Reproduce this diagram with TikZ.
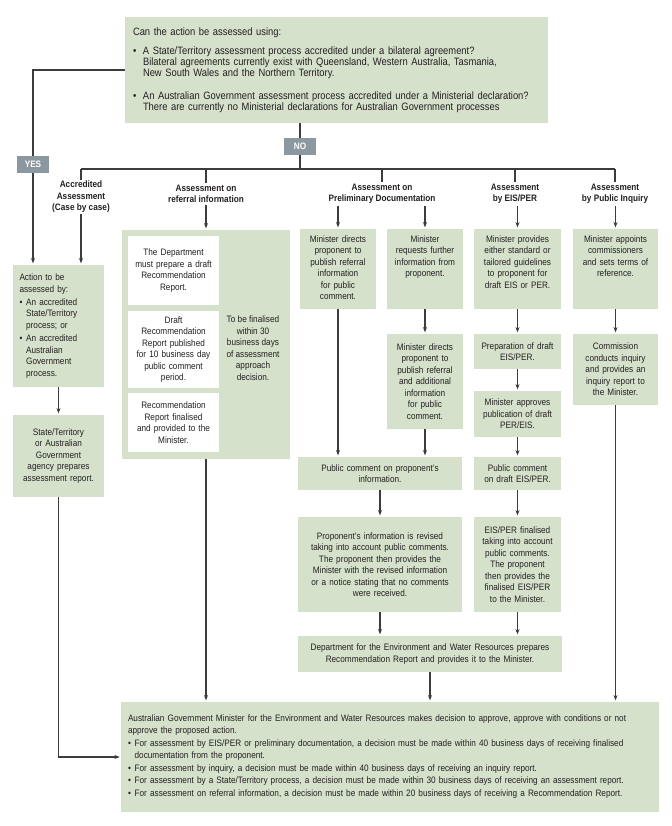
\documentclass[tikz,border=0pt]{standalone}
\usepackage{fontspec}
\setmainfont{Liberation Sans}[FakeStretch=0.88]
\usetikzlibrary{arrows, arrows.meta}
\usetikzlibrary{calc}
\definecolor{boxgreen}{HTML}{D6E1CC}
\definecolor{tabgrey}{HTML}{8C989F}
\definecolor{linegrey}{HTML}{3C3C3C}
\definecolor{textdark}{HTML}{231F20}
\newdimen\px
\px=0.75pt
\newcommand{\toptext}[2]{\parbox[t][50pt][t]{#1\px}{\centering #2}}
\newcommand{\bul}[1][7.5pt]{\makebox[#1][l]{\textbullet}}
\tikzset{
  gbox/.style 2 args={fill=boxgreen, inner xsep=3pt, inner ysep=0pt, text width=#1\px, minimum height=#2\px, align=center},
  wbox/.style 2 args={gbox={#1}{#2}, fill=white},
  head/.style={align=center, inner sep=1pt, font=\fontsize{7}{8.6}\selectfont\bfseries},
  tab/.style={fill=tabgrey, text=white, font=\fontsize{7}{8.6}\selectfont\bfseries, minimum width=32\px, minimum height=17\px, inner sep=0pt},
  link/.style={draw=linegrey, line width=0.8pt},
  arr/.style={link, ->, shorten >=1pt},
}
\begin{document}
\begin{tikzpicture}[x=0.75pt, y=-0.75pt, >={Stealth[length=4pt, width=3pt]}, font=\fontsize{7}{8.6}\selectfont, text=textdark]
  \useasboundingbox (0,0) rectangle (672,826);

  % question
  \node[gbox={407}{106}, align=left, inner xsep=6pt, font=\fontsize{8}{7.9}\selectfont] (ask) at (336.5,70) {Can the action be assessed using:\\[7pt]
    \bul A State/Territory assessment process accredited under a bilateral agreement?\\
    \hspace*{7.5pt}Bilateral agreements currently exist with Queensland, Western Australia, Tasmania,\\
    \hspace*{7.5pt}New South Wales and the Northern Territory.\\[10pt]
    \bul An Australian Government assessment process accredited under a Ministerial declaration?\\
    \hspace*{7.5pt}There are currently no Ministerial declarations for Australian Government processes};
  \node[tab] (no) at (300,146.5) {NO};
  \node[tab] (yes) at (33,164.5) {YES};
  \coordinate (split) at (300,169);

  % headers
  \node[head] (hacc) at (81,197) {Accredited\\Assessment\\(Case by case)};
  \node[head] (href) at (206,194) {Assessment on\\referral information};
  \node[head] (hpre) at (382,194) {Assessment on\\Preliminary Documentation};
  \node[head] (heis) at (515,194) {Assessment\\by EIS/PER};
  \node[head] (hpi) at (615,194) {Assessment\\by Public Inquiry};

  % accredited
  \node[gbox={78}{122}, align=left, inner xsep=5pt] (acc1) at (58.5,326) {Action to be\\assessed by:\\[1.5pt]
    \bul[5pt]An accredited\\\hspace*{5pt}State/Territory\\\hspace*{5pt}process; or\\[1.5pt]
    \bul[5pt]An accredited\\\hspace*{5pt}Australian\\\hspace*{5pt}Government\\\hspace*{5pt}process.};
  \node[gbox={83}{82}] (acc2) at (58.5,456) {State/Territory\\or Australian\\Government\\agency prepares\\assessment report.};

  % referral information
  \node[gbox={160}{229}] (ref) at (206,344.5) {};
  \node[wbox={83}{69}] (r1) at (173.5,270.5) {The Department\\must prepare a draft\\Recommendation\\Report.};
  \node[wbox={83}{77}] (r2) at (173.5,349.5) {Draft\\Recommendation\\Report published\\for 10 business day\\public comment\\period.};
  \node[wbox={83}{59}] (r3) at (173.5,422.5) {Recommendation\\Report finalised\\and provided to the\\Minister.};
  \node[align=center] (rnote) at (253,348) {To be finalised\\within 30\\business days\\of assessment\\approach\\decision.};

  % preliminary documentation
  \node[gbox={68}{80}] (p1) at (338,269) {\toptext{68}{Minister directs\\proponent to\\publish referral\\information\\for public\\comment.}};
  \node[gbox={68}{80}] (p2) at (425,269) {\toptext{68}{Minister\\requests further\\information from\\proponent.}};
  \node[gbox={68}{95}] (p3) at (425,381.5) {Minister directs\\proponent to\\publish referral\\and additional\\information\\for public\\comment.};
  \node[gbox={156}{33}] (pc) at (380,473.5) {Public comment on proponent's\\information.};
  \node[gbox={156}{95}] (pr) at (380,564.5) {Proponent's information is revised\\taking into account public comments.\\The proponent then provides the\\Minister with the revised information\\or a notice stating that no comments\\were received.};
  \node[gbox={256}{36}] (dep) at (430,654) {Department for the Environment and Water Resources prepares\\Recommendation Report and provides it to the Minister.};

  % EIS/PER
  \node[gbox={79}{80}] (e1) at (517.5,269) {\toptext{79}{Minister provides\\either standard or\\tailored guidelines\\to proponent for\\draft EIS or PER.}};
  \node[gbox={79}{35}] (e2) at (517.5,351.5) {Preparation of draft\\EIS/PER.};
  \node[gbox={79}{46}] (e3) at (517.5,414) {Minister approves\\publication of draft\\PER/EIS.};
  \node[gbox={79}{33}] (e4) at (517.5,473.5) {Public comment\\on draft EIS/PER.};
  \node[gbox={79}{95}] (e5) at (517.5,564.5) {EIS/PER finalised\\taking into account\\public comments.\\The proponent\\then provides the\\finalised EIS/PER\\to the Minister.};

  % public inquiry
  \node[gbox={77}{80}] (inq1) at (615.5,269) {\toptext{77}{Minister appoints\\commissioners\\and sets terms of\\reference.}};
  \node[gbox={77}{71}] (inq2) at (615.5,369.5) {Commission\\conducts inquiry\\and provides an\\inquiry report to\\the Minister.};

  % decision
  \node[gbox={524}{110}, align=left, inner xsep=5pt, font=\fontsize{7}{8.7}\selectfont] (fin) at (390,757) {Australian Government Minister for the Environment and Water Resources makes decision to approve, approve with conditions or not\\
    approve the proposed action.\\[1pt]
    \bul[5pt]For assessment by EIS/PER or preliminary documentation, a decision must be made within 40 business days of receiving finalised\\
    \hspace*{5pt}documentation from the proponent.\\[1pt]
    \bul[5pt]For assessment by inquiry, a decision must be made within 40 business days of receiving an inquiry report.\\[1pt]
    \bul[5pt]For assessment by a State/Territory process, a decision must be made within 30 business days of receiving an assessment report.\\[1pt]
    \bul[5pt]For assessment on referral information, a decision must be made within 20 business days of receiving a Recommendation Report.};

  % connectors
  \draw[link] (ask.west) -| (yes);
  \draw[arr] (yes) -- (yes |- acc1.north);
  \draw[link] (ask.south -| no) -- (no);
  \draw[link] (no) -- (split);
  \draw[link] (hacc.north |- split) -- (hpi.north |- split);
  \foreach \h in {hacc, href, hpre, heis, hpi}
    \draw[link] (\h.north |- split) -- (\h.north);
  \draw[arr] (hacc.south) -- (hacc.south |- acc1.north);
  \draw[arr] (acc1) -- (acc2);
  \draw[arr] (acc2.south) |- (fin.west);
  \draw[arr] (href) -- (ref);
  \draw[arr] (ref.south) -- (ref.south |- fin.north);
  \draw[arr] (p1 |- hpre.south) -- (p1.north);
  \draw[arr] (p2 |- hpre.south) -- (p2.north);
  \draw[arr] (p2) -- (p3);
  \draw[arr] (p1.south) -- (p1.south |- pc.north);
  \draw[arr] (p3.south) -- (p3.south |- pc.north);
  \draw[arr] (pc) -- (pr);
  \draw[arr] (pr.south) -- (pr.south |- dep.north);
  \draw[arr] (e1 |- heis.south) -- (e1.north);
  \foreach \a/\b in {e1/e2, e2/e3, e3/e4, e4/e5}
    \draw[arr] (\a) -- (\b);
  \draw[arr] (e5.south) -- (e5.south |- dep.north);
  \draw[arr] (dep.south) -- (dep.south |- fin.north);
  \draw[arr] (inq1 |- hpi.south) -- (inq1.north);
  \draw[arr] (inq1) -- (inq2);
  \draw[arr] (inq2.south) -- (inq2.south |- fin.north);
\end{tikzpicture}
\end{document}
